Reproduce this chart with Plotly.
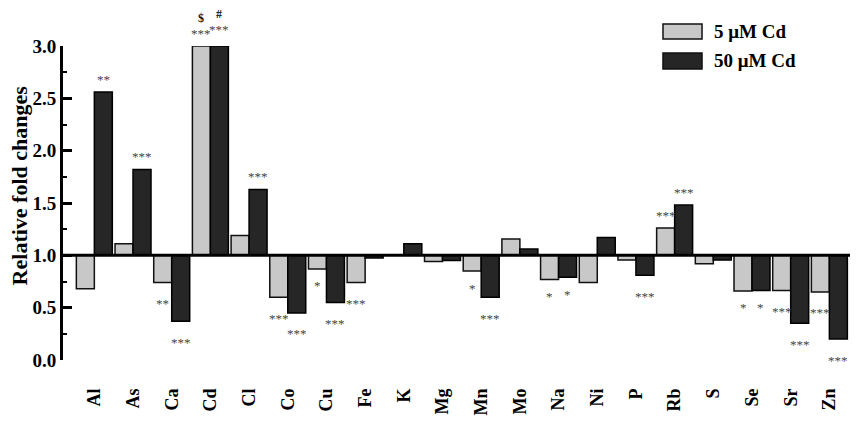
import plotly.graph_objects as go

elements = ["Al", "As", "Ca", "Cd", "Cl", "Co", "Cu", "Fe", "K", "Mg",
            "Mn", "Mo", "Na", "Ni", "P", "Rb", "S", "Se", "Sr", "Zn"]

cd5 = [0.68, 1.11, 0.74, 3.0, 1.19, 0.60, 0.87, 0.74, 1.0, 0.94,
       0.85, 1.155, 0.77, 0.74, 0.955, 1.26, 0.92, 0.66, 0.665, 0.65]
cd50 = [2.56, 1.82, 0.37, 3.0, 1.63, 0.45, 0.55, 0.975, 1.11, 0.95,
        0.60, 1.06, 0.79, 1.17, 0.81, 1.48, 0.955, 0.665, 0.35, 0.20]

sig5 = ["", "", "**", "***", "", "***", "*", "***", "", "",
        "*", "", "*", "", "", "***", "", "*", "***", "***"]
sig50 = ["**", "***", "***", "***", "***", "***", "***", "", "", "",
         "***", "", "*", "", "***", "***", "", "*", "***", "***"]

# extra marks over the Cd bars
extra5 = {"Cd": "$"}
extra50 = {"Cd": "#"}

font = "Liberation Serif, Times New Roman, serif"
light = "#c8c8c8"
dark = "#262626"
half = 0.2325

fig = go.Figure()
fig.add_trace(go.Bar(x=elements, y=[v - 1 for v in cd5], base=1, name="5 μM Cd",
                     marker=dict(color=light, line=dict(color="#111", width=1.5)),
                     cliponaxis=False, showlegend=False))
fig.add_trace(go.Bar(x=elements, y=[v - 1 for v in cd50], base=1, name="50 μM Cd",
                     marker=dict(color=dark, line=dict(color="#000", width=1.5)),
                     cliponaxis=False, showlegend=False))

anns = []
for i, el in enumerate(elements):
    for vals, sig, extra, dx, up_shift in ((cd5, sig5, extra5, -half, 13),
                                            (cd50, sig50, extra50, half, 17)):
        s = sig[i]
        if not s:
            continue
        v = vals[i]
        if v >= 1:
            ys = up_shift if el == "Cd" else 13
        else:
            ys = -21 if len(s) > 1 else -17
        anns.append(dict(x=i + dx, y=v, xref="x", yref="y", text=s, showarrow=False,
                         yanchor="middle", yshift=ys, borderpad=0,
                         font=dict(family=font, size=13, color="#444")))
        if el in extra:
            anns.append(dict(x=i + dx, y=v, xref="x", yref="y", text="<b>" + extra[el] + "</b>",
                             showarrow=False, yanchor="middle", yshift=ys + 15, borderpad=0,
                             font=dict(family=font, size=12, color="#111")))

# y axis title
anns.append(dict(x=-0.055, y=0.557, xref="paper", yref="paper", text="<b>Relative fold changes</b>",
                 textangle=-90, showarrow=False, xanchor="center", yanchor="middle", borderpad=0,
                 font=dict(family=font, size=22, color="#000")))

# legend
legend_items = [("5 μM Cd", light, 1.070, 1.022), ("50 μM Cd", dark, 0.978, 0.927)]
shapes = [dict(type="line", xref="paper", yref="y", x0=0, x1=1, y0=1, y1=1,
               line=dict(color="#000", width=3))]
for label, col, y0, y1 in legend_items:
    shapes.append(dict(type="rect", xref="paper", yref="paper", x0=0.7547, x1=0.8038,
                       y0=y0, y1=y1, fillcolor=col, line=dict(color="#111", width=1.5)))
    anns.append(dict(x=0.816, y=(y0 + y1) / 2, xref="paper", yref="paper",
                     text="<b>" + label + "</b>", showarrow=False, xanchor="left",
                     yanchor="middle", font=dict(family=font, size=19, color="#000")))

# page body has an 8px margin, so the figure is 8px smaller and margins shifted
fig.update_layout(
    width=850, height=414,
    margin=dict(l=55, r=0, t=38, b=62),
    plot_bgcolor="white", paper_bgcolor="white",
    barmode="group", bargap=0.07, bargroupgap=0,
    annotations=anns, shapes=shapes,
    xaxis=dict(range=[-0.81, 19.74], showline=False, ticks="", showgrid=False,
               tickangle=-90, ticklabelstandoff=24, automargin=False,
               tickfont=dict(family=font, size=18, color="#000", weight="bold")),
    yaxis=dict(range=[0, 3], dtick=0.5, tickformat=".1f", showgrid=False, zeroline=False,
               showline=True, linecolor="#000", linewidth=3, automargin=False,
               ticks="inside", ticklen=9, tickwidth=3, tickcolor="#000",
               minor=dict(dtick=0.25, ticks="inside", ticklen=4, tickwidth=2, tickcolor="#000"),
               tickfont=dict(family=font, size=19, color="#000", weight="bold")),
)

fig.write_html("out.html")
